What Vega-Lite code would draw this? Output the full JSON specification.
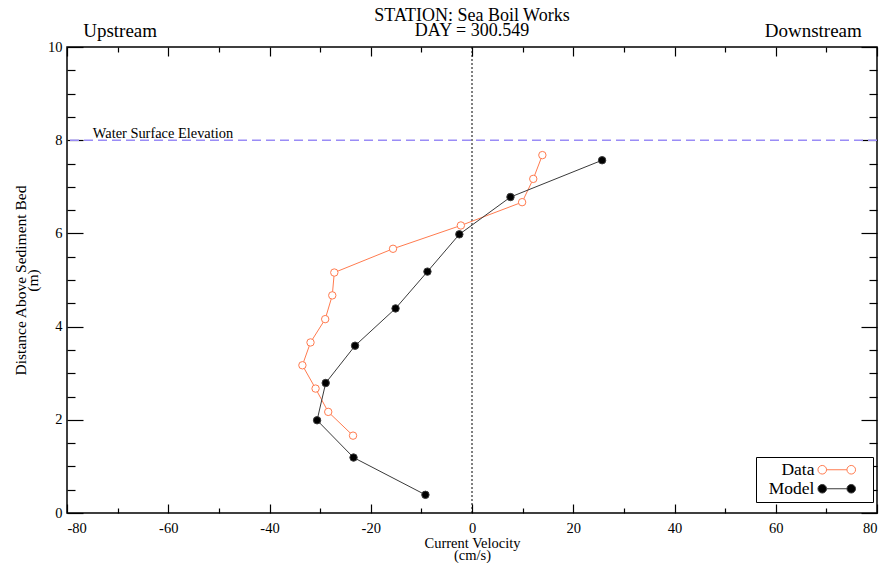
{
  "$schema": "https://vega.github.io/schema/vega-lite/v6.json",
  "width": 810,
  "height": 466,
  "autosize": {"type": "none"},
  "padding": {"left": 67, "top": 47, "right": 18, "bottom": 50},
  "background": "white",
  "title": {
    "text": ["STATION: Sea Boil Works", "DAY = 300.549"],
    "font": "Liberation Serif",
    "fontSize": 18,
    "fontWeight": "normal",
    "anchor": "middle",
    "offset": -18,
    "lineHeight": 15,
    "color": "black"
  },
  "config": {
    "view": {"stroke": "black", "strokeWidth": 1.5},
    "font": "Liberation Serif",
    "axis": {
      "labelFont": "Liberation Serif",
      "titleFont": "Liberation Serif",
      "labelColor": "black",
      "titleColor": "black",
      "tickColor": "black",
      "tickWidth": 1.2,
      "grid": false,
      "domain": false,
      "labelFontSize": 14.5,
      "titleFontSize": 14.5,
      "titleFontWeight": "normal",
      "labelAngle": 0
    },
    "legend": {
      "symbolType": "M-1.36,0L1.36,0M-1.36,0A0.573,0.573,0,1,1,-2.506,0A0.573,0.573,0,1,1,-1.36,0ZM2.506,0A0.573,0.573,0,1,1,1.36,0A0.573,0.573,0,1,1,2.506,0ZM4,0L4,0",
      "symbolSize": 225,
      "symbolStrokeWidth": 1,
      "labelFont": "Liberation Serif",
      "labelFontSize": 17.5,
      "labelColor": "black",
      "labelAlign": "right",
      "labelOffset": -31,
      "symbolOffset": 68,
      "strokeColor": "black",
      "fillColor": "white",
      "padding": 4,
      "rowPadding": 0,
      "cornerRadius": 0
    }
  },
  "datasets": {
    "profiles": [
      {"series": "Data", "depth": 1.66, "velocity": -23.5},
      {"series": "Data", "depth": 2.17, "velocity": -28.4},
      {"series": "Data", "depth": 2.67, "velocity": -30.9},
      {"series": "Data", "depth": 3.17, "velocity": -33.5},
      {"series": "Data", "depth": 3.66, "velocity": -31.9},
      {"series": "Data", "depth": 4.16, "velocity": -29.0},
      {"series": "Data", "depth": 4.67, "velocity": -27.6},
      {"series": "Data", "depth": 5.16, "velocity": -27.2},
      {"series": "Data", "depth": 5.67, "velocity": -15.6},
      {"series": "Data", "depth": 6.17, "velocity": -2.2},
      {"series": "Data", "depth": 6.67, "velocity": 9.9},
      {"series": "Data", "depth": 7.17, "velocity": 12.1},
      {"series": "Data", "depth": 7.68, "velocity": 13.9},
      {"series": "Model", "depth": 0.39, "velocity": -9.2},
      {"series": "Model", "depth": 1.19, "velocity": -23.4},
      {"series": "Model", "depth": 1.99, "velocity": -30.6},
      {"series": "Model", "depth": 2.79, "velocity": -28.9},
      {"series": "Model", "depth": 3.59, "velocity": -23.1},
      {"series": "Model", "depth": 4.39, "velocity": -15.1},
      {"series": "Model", "depth": 5.18, "velocity": -8.8},
      {"series": "Model", "depth": 5.98, "velocity": -2.5},
      {"series": "Model", "depth": 6.78, "velocity": 7.6},
      {"series": "Model", "depth": 7.57, "velocity": 25.7}
    ]
  },
  "layer": [
    {
      "data": {"values": [{}]},
      "mark": {"type": "rule", "color": "#9a8cf6", "strokeDash": [9, 5], "strokeWidth": 1.6},
      "encoding": {
        "y": {"datum": 8, "type": "quantitative", "axis": null, "scale": {"domain": [0, 10], "nice": false}}
      }
    },
    {
      "data": {"values": [{}]},
      "mark": {"type": "rule", "color": "black", "strokeDash": [2, 2], "strokeWidth": 1},
      "encoding": {
        "x": {"datum": 0, "type": "quantitative", "axis": null, "scale": {"domain": [-80, 80], "nice": false}}
      }
    },
    {
      "data": {"name": "profiles"},
      "mark": {"type": "line", "strokeWidth": 1},
      "encoding": {
        "x": {
          "field": "velocity", "type": "quantitative",
          "scale": {"domain": [-80, 80], "nice": false},
          "axis": {
            "orient": "bottom",
            "values": [-80, -70, -60, -50, -40, -30, -20, -10, 0, 10, 20, 30, 40, 50, 60, 70, 80],
            "labelExpr": "datum.value % 20 === 0 ? '' + datum.value : ''",
            "tickSize": {"condition": {"test": "datum.value % 20 === 0", "value": -9}, "value": -5},
            "labelPadding": 17,
            "title": ["Current Velocity", "(cm/s)"],
            "titleLineHeight": 12,
            "titlePadding": 2
          }
        },
        "y": {
          "field": "depth", "type": "quantitative",
          "scale": {"domain": [0, 10], "nice": false},
          "axis": {
            "orient": "left",
            "values": [0, 0.5, 1, 1.5, 2, 2.5, 3, 3.5, 4, 4.5, 5, 5.5, 6, 6.5, 7, 7.5, 8, 8.5, 9, 9.5, 10],
            "labelExpr": "datum.value % 2 === 0 ? '' + datum.value : ''",
            "tickSize": {"condition": {"test": "datum.value % 2 === 0", "value": -16}, "value": -8},
            "labelPadding": 21,
            "title": ["Distance Above Sediment Bed", "(m)"],
            "titleFontSize": 15.5,
            "titleLineHeight": 12,
            "titlePadding": 7
          }
        },
        "color": {
          "field": "series", "type": "nominal",
          "scale": {"domain": ["Data", "Model"], "range": ["#ff7b4f", "#3a3a3a"]},
          "legend": {"title": null, "orient": "none", "legendX": 689, "legendY": 410,
            "encode": {"symbols": {"update": {"fill": {"scale": "fill", "field": "value"}, "stroke": {"scale": "color", "field": "value"}}}}}
        },
        "order": {"field": "depth"}
      }
    },
    {
      "data": {"name": "profiles"},
      "mark": {"type": "point", "shape": "circle", "filled": false, "strokeWidth": 1, "size": 55, "opacity": 1},
      "encoding": {
        "x": {
          "field": "velocity", "type": "quantitative",
          "scale": {"domain": [-80, 80], "nice": false},
          "axis": {
            "orient": "top",
            "values": [-80, -70, -60, -50, -40, -30, -20, -10, 0, 10, 20, 30, 40, 50, 60, 70, 80],
            "labels": false,
            "title": null,
            "tickSize": {"condition": {"test": "datum.value % 20 === 0", "value": -9}, "value": -5}
          }
        },
        "y": {
          "field": "depth", "type": "quantitative",
          "scale": {"domain": [0, 10], "nice": false},
          "axis": {
            "orient": "right",
            "values": [0, 0.5, 1, 1.5, 2, 2.5, 3, 3.5, 4, 4.5, 5, 5.5, 6, 6.5, 7, 7.5, 8, 8.5, 9, 9.5, 10],
            "labels": false,
            "title": null,
            "tickSize": {"condition": {"test": "datum.value % 2 === 0", "value": -16}, "value": -8}
          }
        },
        "color": {
          "field": "series", "type": "nominal",
          "scale": {"domain": ["Data", "Model"], "range": ["#ff7b4f", "#000000"]},
          "legend": {"title": null, "orient": "none", "legendX": 689, "legendY": 410,
            "encode": {"symbols": {"update": {"fill": {"scale": "fill", "field": "value"}, "stroke": {"scale": "color", "field": "value"}}}}}
        },
        "fill": {
          "field": "series", "type": "nominal",
          "scale": {"domain": ["Data", "Model"], "range": ["#ffffff", "#000000"]},
          "legend": {"title": null, "orient": "none", "legendX": 689, "legendY": 410,
            "encode": {"symbols": {"update": {"fill": {"scale": "fill", "field": "value"}, "stroke": {"scale": "color", "field": "value"}}}}}
        }
      }
    },
    {
      "data": {"values": [{"label": "Water Surface Elevation"}]},
      "mark": {"type": "text", "align": "left", "baseline": "alphabetic", "dy": -2, "fontSize": 14.4, "font": "Liberation Serif", "color": "black"},
      "encoding": {
        "x": {"datum": -74.9, "type": "quantitative", "axis": null, "scale": {"domain": [-80, 80], "nice": false}},
        "y": {"datum": 8, "type": "quantitative", "axis": null, "scale": {"domain": [0, 10], "nice": false}},
        "text": {"field": "label"}
      }
    },
    {
      "data": {"values": [{"label": "Upstream"}]},
      "mark": {"type": "text", "align": "left", "baseline": "alphabetic", "dy": -10, "fontSize": 19, "font": "Liberation Serif", "color": "black"},
      "encoding": {
        "x": {"datum": -76.8, "type": "quantitative", "axis": null, "scale": {"domain": [-80, 80], "nice": false}},
        "y": {"datum": 10, "type": "quantitative", "axis": null, "scale": {"domain": [0, 10], "nice": false}},
        "text": {"field": "label"}
      }
    },
    {
      "data": {"values": [{"label": "Downstream"}]},
      "mark": {"type": "text", "align": "right", "baseline": "alphabetic", "dy": -10, "fontSize": 19, "font": "Liberation Serif", "color": "black"},
      "encoding": {
        "x": {"datum": 77.0, "type": "quantitative", "axis": null, "scale": {"domain": [-80, 80], "nice": false}},
        "y": {"datum": 10, "type": "quantitative", "axis": null, "scale": {"domain": [0, 10], "nice": false}},
        "text": {"field": "label"}
      }
    }
  ],
  "resolve": {"axis": {"x": "independent", "y": "independent"}}
}
